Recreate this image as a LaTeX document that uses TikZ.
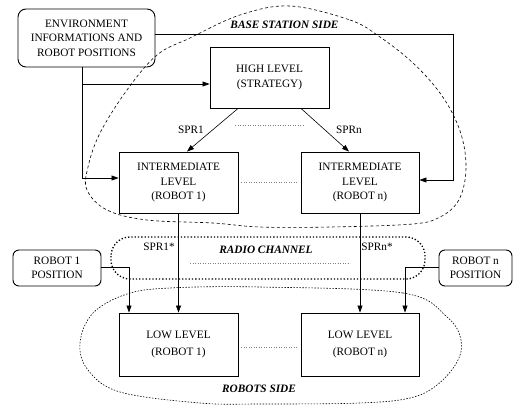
\documentclass[tikz,border=0pt]{standalone}
\usepackage{fontspec}
\setmainfont{Liberation Serif}
\usetikzlibrary{arrows.meta,calc}
\begin{document}
\begin{tikzpicture}[x=1pt,y=-1pt,
  every node/.style={font=\fontsize{11.3}{14.5}\selectfont},
  blk/.style={draw,line width=0.9pt,align=center,inner sep=0pt},
  rbox/.style={draw,line width=0.9pt,rounded corners=8pt,align=center,inner sep=0pt},
  arr/.style={line width=0.6pt,-{Triangle[length=7pt,width=5pt]}},
  ln/.style={line width=0.6pt},
  dots/.style={dotted,gray,line width=0.5pt},
  zone/.style={font=\fontsize{11.3}{14}\selectfont\bfseries\itshape},
  lbl/.style={inner sep=1pt}]
\useasboundingbox (0,0) rectangle (519,405);
% zones
\draw[line width=0.6pt,dash pattern=on 3pt off 2.5pt] plot[smooth cycle,tension=0.6] coordinates {
 (290,6) (350,20) (380,37) (413,63) (440,93) (457,123) (465,152) (465,180) (457,203) (440,217) (413,224)
 (330,227) (260,227) (213,223) (147,220) (107,210) (87,190) (88,167) (100,133) (127,90) (157,55) (190,38) (240,15)};
\draw[line width=0.6pt,dash pattern=on 1.5pt off 1.5pt] plot[smooth cycle,tension=0.6] coordinates {
 (260,287) (403,293) (447,317) (461,340) (457,362) (437,385) (410,398) (360,403) (260,404) (200,403)
 (120,392) (88,370) (80,343) (93,313) (127,294) (170,288)};
\draw[line width=1.3pt,dotted,rounded corners=19pt] (111,237) rectangle (425,279);
% nodes
\node[rbox,minimum width=137pt,minimum height=58pt] (env) at (86.5,38) {ENVIRONMENT\\INFORMATIONS AND\\ROBOT POSITIONS};
\node[blk,minimum width=119pt,minimum height=61pt] (high) at (269.5,77.5) {HIGH LEVEL\\[1pt](STRATEGY)};
\node[blk,minimum width=119pt,minimum height=61pt] (int1) at (178.5,182.5) {INTERMEDIATE\\LEVEL\\(ROBOT 1)};
\node[blk,minimum width=118pt,minimum height=61pt] (intn) at (360,182.5) {INTERMEDIATE\\LEVEL\\(ROBOT n)};
\node[blk,minimum width=119pt,minimum height=63pt] (low1) at (178.5,344.5) {LOW LEVEL\\[3pt](ROBOT 1)};
\node[blk,minimum width=118pt,minimum height=63pt] (lown) at (360,344.5) {LOW LEVEL\\[3pt](ROBOT n)};
\node[rbox,rounded corners=6pt,minimum width=88pt,minimum height=36pt] (r1pos) at (57,268) {ROBOT 1\\POSITION};
\node[rbox,rounded corners=6pt,minimum width=73pt,minimum height=36pt] (rnpos) at (475.5,268) {ROBOT n\\POSITION};
% zone labels
\node[zone] (bss) at (284.5,25) {BASE STATION SIDE};
\node[zone] (rch) at (266,250) {RADIO CHANNEL};
\node[zone] (rbs) at (259,389) {ROBOTS SIDE};
% labels
\node[lbl] (spr1) at (191,130) {SPR1};
\node[lbl] (sprn) at (349,130) {SPRn};
\node[lbl] (spr1s) at (159,247) {SPR1*};
\node[lbl] (sprns) at (377,247) {SPRn*};
% connectors
\coordinate (e1) at ([xshift=-4.5pt]env.south);
\coordinate (h1) at ([yshift=-6.5pt]high.west);
\coordinate (i1) at ([yshift=4.5pt]int1.west);
\coordinate (e2) at ([yshift=4pt]env.east);
\coordinate (in) at ([yshift=2.5pt]intn.east);
\coordinate (cr) at ($(in)+(34,0)$);
\draw[arr] (e1) |- (i1);
\draw[arr] (e1 |- h1) -- (h1);
\draw[arr] (e2) -| (cr) -- (in);
\draw[arr] ([xshift=-31.5pt]high.south) -- ([xshift=8.5pt]int1.north);
\draw[arr] ([xshift=31.5pt]high.south) -- ([xshift=-11pt]intn.north);
\draw[arr] (int1.south) -- (low1.north);
\draw[arr] (intn.south) -- (lown.north);
\coordinate (r1) at ([yshift=1pt]r1pos.east);
\coordinate (l1) at ([xshift=-49.5pt]low1.north);
\draw[arr] (r1) -| (l1);
\coordinate (rn) at ([yshift=1pt]rnpos.west);
\coordinate (ln) at ([xshift=45pt]lown.north);
\draw[arr] (rn) -| (ln);
% dotted separators
\coordinate (d1a) at (235,125); \coordinate (d1b) at (304,125);
\draw[dots] (d1a) -- (d1b);
\draw[dots] ([xshift=3pt]int1.east) -- ([xshift=-3pt]intn.west);
\draw[dots] ([xshift=3pt,yshift=-3pt]low1.east) -- ([xshift=-3pt,yshift=-3pt]lown.west);
\coordinate (d2a) at (190,263); \coordinate (d2b) at (350,263);
\draw[dots] (d2a) -- (d2b);
\end{tikzpicture}
\end{document}
